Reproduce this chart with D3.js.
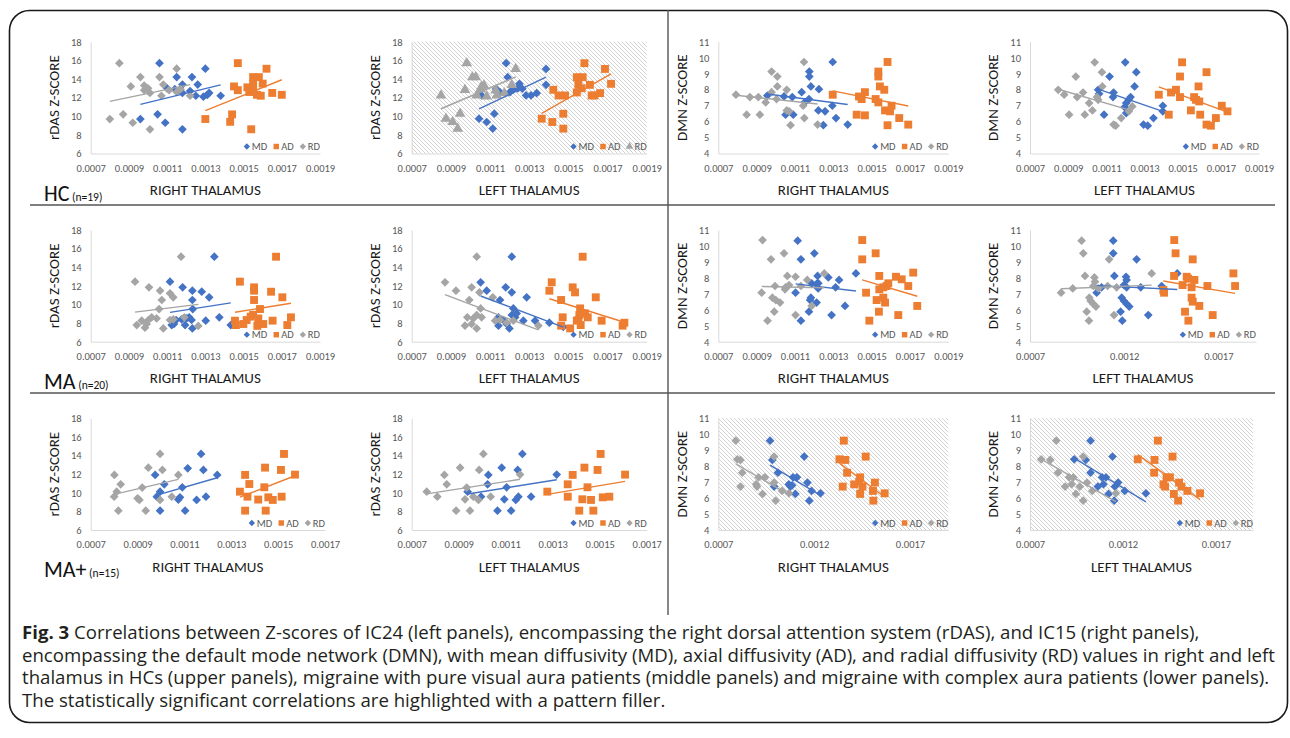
<!DOCTYPE html>
<html>
<head>
<meta charset="utf-8">
<script src="https://cdn.jsdelivr.net/npm/d3@7"></script>
<style>
body { margin: 0; background: #fff; }
svg { display: block; }
text { font-family: Calibri, Carlito, Lato, sans-serif; }
.caption text { font-family: "Open Sans", "Noto Sans", sans-serif; }
</style>
</head>
<body>
<svg id="fig" width="1290" height="738"></svg>
<script>
// tick values
const xTicksWide = [0.0007, 0.0009, 0.0011, 0.0013, 0.0015, 0.0017, 0.0019]
const xTicksShort = [0.0007, 0.0009, 0.0011, 0.0013, 0.0015, 0.0017]
const xTicksCoarse = [0.0007, 0.0012, 0.0017]
const rdasTicks = [6, 8, 10, 12, 14, 16, 18]
const dmnTicks = [4, 5, 6, 7, 8, 9, 10, 11]
const seriesNames = ["MD", "AD", "RD"]
const groupLabels = ["HC", "MA", "MA+"]
const groupSizes = ["(n=19)", "(n=20)", "(n=15)"]

// HC, rDAS, right thalamus
const hcRdasR_MD = [[0.00096,9.7],[0.00105,10.2],[0.00106,15.7],[0.00109,9.3],[0.00110,13.0],[0.00114,12.9],[0.00115,14.2],[0.00118,8.6],[0.00118,13.4],[0.00118,12.5],[0.00123,14.2],[0.00125,12.2],[0.00126,13.4],[0.00129,12.1],[0.00130,15.1],[0.00131,12.3],[0.00132,12.5],[0.00138,12.2],[0.00122,12.7]]
const hcRdasR_AD = [[0.00130,9.7],[0.00143,9.4],[0.00144,10.2],[0.00145,13.2],[0.00147,12.8],[0.00147,15.7],[0.00152,13.1],[0.00153,12.6],[0.00154,8.6],[0.00155,14.2],[0.00155,13.5],[0.00155,12.9],[0.00157,12.3],[0.00158,14.2],[0.00159,12.2],[0.00160,13.5],[0.00162,15.1],[0.00165,12.5],[0.00170,12.3]]
const hcRdasR_RD = [[0.00080,9.7],[0.00085,15.7],[0.00087,10.2],[0.00091,13.2],[0.00092,9.3],[0.00096,14.2],[0.00098,12.8],[0.00098,13.3],[0.00100,13.0],[0.00101,8.6],[0.00101,12.5],[0.00106,14.2],[0.00107,12.2],[0.00108,13.4],[0.00111,12.8],[0.00115,12.6],[0.00115,15.1],[0.00117,12.9],[0.00122,12.2]]
// HC, rDAS, left thalamus
const hcRdasL_MD = [[0.001044,9.74],[0.001057,12.23],[0.001083,9.38],[0.001114,8.67],[0.001122,10.27],[0.001131,12.91],[0.001151,12.55],[0.001182,15.69],[0.00119,14.19],[0.001202,12.59],[0.001216,12.84],[0.001241,13.0],[0.00125,13.48],[0.001265,12.95],[0.001284,12.23],[0.001309,12.23],[0.001338,12.48],[0.001386,15.08],[0.001386,13.37]]
const hcRdasL_AD = [[0.001364,9.74],[0.001418,9.38],[0.001423,12.84],[0.00145,12.23],[0.001474,10.27],[0.001474,8.67],[0.001483,12.23],[0.001543,14.19],[0.001543,12.55],[0.001551,13.37],[0.001568,13.0],[0.001573,14.19],[0.001582,15.69],[0.00161,13.37],[0.001619,12.23],[0.001633,12.23],[0.001662,12.48],[0.001687,15.08],[0.001718,13.48]]
const hcRdasL_RD = [[0.00085,12.23],[0.000875,9.74],[0.000909,9.38],[0.000935,8.67],[0.000947,10.27],[0.000972,12.84],[0.000981,15.69],[0.00101,14.19],[0.001027,14.19],[0.001032,12.23],[0.001052,12.9],[0.001057,13.2],[0.001069,13.3],[0.001083,12.12],[0.001129,12.77],[0.001134,12.23],[0.001173,12.48],[0.001211,13.37],[0.001231,15.08]]
// HC, DMN, right thalamus
const hcDmnR_MD = [[0.000956,7.63],[0.001043,7.57],[0.001051,6.43],[0.001086,7.53],[0.001091,6.43],[0.001135,7.84],[0.001152,7.22],[0.001173,7.41],[0.001175,9.13],[0.001175,8.82],[0.001183,8.2],[0.001222,6.7],[0.001225,8.03],[0.001248,5.77],[0.001257,6.64],[0.001295,6.99],[0.001297,9.73],[0.001314,6.22],[0.001375,5.81]]
const hcDmnR_AD = [[0.001297,7.68],[0.001422,6.43],[0.001434,7.57],[0.001448,7.41],[0.001465,7.84],[0.001465,6.39],[0.001521,7.41],[0.001535,9.13],[0.001535,8.82],[0.001535,7.2],[0.001543,8.2],[0.001566,7.99],[0.00157,6.7],[0.001583,9.73],[0.001583,5.77],[0.001596,6.64],[0.001604,6.99],[0.001644,6.22],[0.001691,5.81]]
const hcDmnR_RD = [[0.000792,7.68],[0.000848,6.43],[0.000865,7.53],[0.000909,7.53],[0.000917,6.43],[0.000947,7.2],[0.000978,9.13],[0.000978,7.84],[0.001004,7.41],[0.001008,8.82],[0.001008,8.2],[0.001057,7.99],[0.001057,6.7],[0.00107,6.64],[0.001077,5.77],[0.001143,6.99],[0.001147,9.73],[0.001149,6.22],[0.001218,5.81]]
// HC, DMN, left thalamus
const hcDmnL_MD = [[0.001057,7.99],[0.001062,7.74],[0.001088,6.43],[0.001117,8.82],[0.001135,7.53],[0.001138,7.82],[0.001196,6.91],[0.001199,9.71],[0.001204,7.16],[0.001204,6.53],[0.001217,7.36],[0.001227,7.53],[0.001248,8.2],[0.001257,9.09],[0.001295,5.81],[0.001317,5.74],[0.001347,6.22],[0.001396,6.99],[0.001396,6.64]]
const hcDmnL_AD = [[0.001375,7.68],[0.001427,6.43],[0.001439,7.82],[0.001465,7.99],[0.001486,8.82],[0.001486,7.53],[0.001497,9.71],[0.001543,6.7],[0.00156,7.53],[0.00157,7.36],[0.001583,8.2],[0.001587,7.26],[0.001592,6.43],[0.001625,9.09],[0.001625,5.81],[0.001648,5.74],[0.001674,6.22],[0.001705,6.99],[0.001735,6.64]]
const hcDmnL_RD = [[0.000848,7.99],[0.000879,7.68],[0.000905,6.43],[0.00094,8.82],[0.000947,7.53],[0.000978,7.82],[0.000987,6.43],[0.00101,7.16],[0.001027,6.7],[0.001039,9.71],[0.001051,7.53],[0.001057,7.36],[0.001077,9.09],[0.001079,8.2],[0.001138,5.81],[0.001149,5.74],[0.001178,6.22],[0.001218,6.64],[0.001236,6.95]]

// MA, rDAS, right thalamus
const maRdasR_MD = [[0.001115,12.45],[0.001124,7.79],[0.001136,7.9],[0.001147,8.33],[0.001176,8.4],[0.001181,11.84],[0.001194,7.79],[0.001202,8.5],[0.001215,8.62],[0.001228,8.33],[0.001232,11.48],[0.001232,10.48],[0.001234,9.51],[0.001232,7.43],[0.001281,11.37],[0.001302,8.26],[0.00132,10.77],[0.001347,15.13],[0.001373,8.62],[0.001433,7.79]]
const maRdasR_AD = [[0.001455,8.26],[0.00146,7.79],[0.001481,12.45],[0.001499,7.9],[0.001516,8.33],[0.001537,8.69],[0.00155,8.9],[0.001555,11.84],[0.001555,11.48],[0.001555,10.48],[0.001572,7.7],[0.001577,8.5],[0.001586,9.51],[0.001603,7.9],[0.001644,11.37],[0.001652,8.26],[0.00167,15.13],[0.001703,10.77],[0.001729,7.79],[0.001748,8.62]]
const maRdasR_RD = [[0.000932,12.45],[0.000941,7.79],[0.000967,8.26],[0.000984,7.5],[0.000993,7.9],[0.001002,8.33],[0.001005,11.84],[0.001019,8.62],[0.001045,8.5],[0.001058,9.51],[0.001063,11.48],[0.001072,10.48],[0.00108,7.43],[0.001115,11.2],[0.001115,8.33],[0.001132,10.77],[0.001132,8.4],[0.001173,15.13],[0.00119,8.62],[0.001263,7.7]]
// MA, rDAS, left thalamus
const maRdasL_MD = [[0.001052,12.38],[0.001083,11.48],[0.001143,8.62],[0.001143,7.72],[0.001151,10.48],[0.001168,8.33],[0.00118,11.84],[0.001185,7.9],[0.001199,7.43],[0.001211,15.13],[0.001211,11.3],[0.001211,8.87],[0.001219,9.58],[0.001228,8.62],[0.001236,9.04],[0.00127,8.26],[0.001287,10.77],[0.00133,8.26],[0.001403,8.04],[0.001474,7.6]]
const maRdasL_AD = [[0.001403,11.48],[0.001415,12.38],[0.001463,10.48],[0.001463,7.72],[0.001471,8.62],[0.001509,7.43],[0.001522,11.84],[0.001534,11.3],[0.001543,8.26],[0.001551,8.33],[0.001556,8.87],[0.00156,9.58],[0.001563,7.79],[0.001573,15.13],[0.001585,9.04],[0.001599,8.62],[0.00164,10.77],[0.00167,8.26],[0.001777,7.72],[0.001786,8.04]]
const maRdasL_RD = [[0.00087,12.38],[0.000926,11.48],[0.000972,7.72],[0.000984,8.62],[0.000994,10.48],[0.001006,11.84],[0.001006,7.9],[0.001015,8.5],[0.001032,15.13],[0.001032,8.87],[0.001032,7.43],[0.001046,11.3],[0.001052,9.58],[0.001057,8.62],[0.001114,10.77],[0.001126,8.26],[0.001151,8.33],[0.001185,8.04],[0.001219,8.26],[0.001347,7.72]]
// MA, DMN, right thalamus
const maDmnR_MD = [[0.001103,7.07],[0.001114,10.33],[0.001131,9.16],[0.001131,5.32],[0.001173,5.88],[0.001179,6.61],[0.001183,6.76],[0.001187,7.66],[0.001201,9.54],[0.001213,7.62],[0.001213,6.45],[0.001218,8.12],[0.001221,7.34],[0.001222,7.66],[0.001274,8.03],[0.001291,5.67],[0.001312,7.41],[0.00133,7.87],[0.001361,6.24],[0.001418,8.28]]
const maDmnR_AD = [[0.001451,10.37],[0.001451,9.16],[0.001471,7.07],[0.001488,5.32],[0.001521,9.54],[0.001526,6.61],[0.001538,5.88],[0.00154,8.12],[0.00154,7.28],[0.001561,7.41],[0.001561,6.76],[0.00157,6.45],[0.001578,7.49],[0.001587,7.66],[0.001627,8.07],[0.001639,5.67],[0.001657,7.91],[0.001691,7.49],[0.001717,8.33],[0.001738,6.24]]
const maDmnR_RD = [[0.000926,7.07],[0.000931,10.37],[0.000957,5.32],[0.000975,9.16],[0.000982,6.76],[0.000992,5.88],[0.000996,7.49],[0.001,6.61],[0.001022,6.45],[0.001043,9.54],[0.001048,7.28],[0.001051,7.41],[0.00106,8.12],[0.001069,7.55],[0.001103,8.07],[0.001103,5.67],[0.001131,7.49],[0.001164,7.87],[0.001187,6.24],[0.001253,8.28]]
// MA, DMN, left thalamus
const maDmnL_MD = [[0.001054,7.07],[0.00108,7.41],[0.001142,10.33],[0.001142,9.54],[0.001148,8.12],[0.001181,5.88],[0.001187,6.76],[0.00119,5.32],[0.001199,6.55],[0.001199,7.55],[0.00121,8.07],[0.001213,7.87],[0.001213,7.41],[0.001213,6.37],[0.001227,6.2],[0.001266,9.16],[0.001288,7.41],[0.001328,5.67],[0.001399,7.49],[0.001482,8.28]]
const maDmnL_AD = [[0.001408,7.24],[0.001412,7.07],[0.001465,8.12],[0.001466,10.37],[0.001473,9.54],[0.00151,7.55],[0.001523,5.88],[0.001532,8.07],[0.00154,7.95],[0.001541,5.32],[0.001558,7.41],[0.001558,6.76],[0.001564,9.16],[0.001564,6.51],[0.001573,7.87],[0.001599,6.24],[0.001642,7.49],[0.00167,5.67],[0.00178,8.28],[0.001789,7.49]]
const maDmnL_RD = [[0.000865,7.07],[0.000927,7.34],[0.000974,10.33],[0.000983,9.54],[0.000992,8.12],[0.001001,5.88],[0.001013,5.32],[0.001015,6.76],[0.001022,6.55],[0.001036,7.49],[0.001036,6.37],[0.001042,8.03],[0.001045,7.76],[0.00105,6.2],[0.001063,7.34],[0.001112,7.49],[0.00112,9.16],[0.001146,5.67],[0.00116,7.41],[0.001346,8.28]]

// MA+, rDAS, right thalamus
const mapRdasR_MD = [[0.000975,11.92],[0.000982,9.58],[0.000996,10.12],[0.000996,8.08],[0.001014,10.91],[0.001074,9.27],[0.001081,9.51],[0.001091,10.59],[0.001103,8.08],[0.001114,12.63],[0.001152,9.23],[0.001171,14.17],[0.001181,12.45],[0.001192,9.58],[0.00124,11.92]]
const mapRdasR_AD = [[0.001337,10.12],[0.001359,11.92],[0.001359,8.08],[0.001369,9.58],[0.001377,10.94],[0.001415,9.27],[0.001441,10.59],[0.001444,12.7],[0.001447,8.08],[0.001458,9.51],[0.001477,9.23],[0.001512,12.45],[0.001515,9.58],[0.001525,14.17],[0.001572,11.95]]
const mapRdasR_RD = [[0.0008,9.58],[0.000801,11.92],[0.000811,10.12],[0.000818,8.08],[0.000828,10.91],[0.0009,9.4],[0.000908,9.23],[0.00092,10.56],[0.000935,8.08],[0.000946,12.7],[0.000996,14.17],[0.000996,9.23],[0.001006,12.45],[0.001046,9.58],[0.001074,11.92]]
// MA+, rDAS, left thalamus
const mapRdasL_MD = [[0.000938,10.12],[0.000995,9.58],[0.001023,10.91],[0.001026,11.92],[0.001065,8.08],[0.001083,12.7],[0.001094,9.3],[0.001104,10.59],[0.001123,8.08],[0.001143,9.23],[0.001151,12.45],[0.001154,9.58],[0.001171,14.17],[0.001208,9.58],[0.001317,11.95]]
const mapRdasL_AD = [[0.001277,10.12],[0.001364,10.91],[0.001364,9.58],[0.001385,11.92],[0.001413,8.08],[0.001426,9.3],[0.001435,12.7],[0.001448,10.59],[0.001463,9.23],[0.001473,8.08],[0.001491,12.45],[0.001504,14.17],[0.001513,9.51],[0.001541,9.58],[0.001608,11.95]]
const mapRdasL_RD = [[0.000764,10.12],[0.000809,9.58],[0.000839,11.92],[0.000849,10.91],[0.000889,8.08],[0.000906,12.7],[0.000927,9.3],[0.000934,10.56],[0.000948,8.08],[0.000962,9.58],[0.000984,9.23],[0.000987,12.45],[0.001005,14.17],[0.001036,9.58],[0.001161,11.95]]
// MA+, DMN, right thalamus
const mapDmnR_MD = [[0.00097,9.6],[0.000982,8.39],[0.000991,6.72],[0.001011,7.59],[0.001068,6.86],[0.001076,6.72],[0.001085,6.8],[0.00109,7.3],[0.001102,6.26],[0.00111,7.3],[0.001148,8.6],[0.001165,6.97],[0.001175,5.84],[0.001187,6.45],[0.001233,6.3]]
const mapDmnR_AD = [[0.001332,8.43],[0.001349,6.72],[0.001355,9.6],[0.001363,8.39],[0.001372,7.59],[0.001409,6.86],[0.001435,7.03],[0.00144,7.3],[0.00144,6.26],[0.001452,6.72],[0.001469,8.6],[0.001507,6.45],[0.001509,5.84],[0.001517,6.97],[0.001568,6.3]]
const mapDmnR_RD = [[0.000791,9.6],[0.000799,8.43],[0.000816,8.39],[0.000816,6.72],[0.000825,7.59],[0.000897,6.86],[0.000902,6.72],[0.00091,7.3],[0.000931,6.26],[0.000943,7.3],[0.000991,8.6],[0.000991,6.97],[0.000999,5.84],[0.001033,6.45],[0.001068,6.3]]
// MA+, DMN, left thalamus
const mapDmnL_MD = [[0.000938,8.43],[0.001,8.39],[0.001026,9.6],[0.001026,7.59],[0.001065,6.72],[0.001088,7.3],[0.001095,6.86],[0.001109,7.3],[0.001123,6.26],[0.001144,8.6],[0.001153,5.84],[0.001157,6.72],[0.001174,6.97],[0.00121,6.45],[0.001324,6.3]]
const mapDmnL_AD = [[0.00128,8.43],[0.001368,7.59],[0.00137,8.39],[0.001388,9.6],[0.001418,6.86],[0.001427,6.72],[0.001435,7.3],[0.001453,7.3],[0.001467,8.6],[0.001474,6.26],[0.001497,5.84],[0.001502,6.97],[0.001515,6.72],[0.001547,6.45],[0.001615,6.3]]
const mapDmnL_RD = [[0.00076,8.43],[0.000809,8.39],[0.000841,9.6],[0.00085,7.59],[0.000889,6.72],[0.00091,7.3],[0.000924,6.86],[0.000933,7.3],[0.000947,6.26],[0.000968,6.72],[0.000986,8.6],[0.000986,5.84],[0.001007,6.97],[0.001035,6.45],[0.001162,6.3]]

const captionLines = [
    ["Fig. 3", " Correlations between Z-scores of IC24 (left panels), encompassing the right dorsal attention system (rDAS), and IC15 (right panels),"],
    ["", "encompassing the default mode network (DMN), with mean diffusivity (MD), axial diffusivity (AD), and radial diffusivity (RD) values in right and left"],
    ["", "thalamus in HCs (upper panels), migraine with pure visual aura patients (middle panels) and migraine with complex aura patients (lower panels)."],
    ["", "The statistically significant correlations are highlighted with a pattern filler."]
]

const colors = { MD: "#4472C4", AD: "#ED7D31", RD: "#A5A5A5" }

// layout of the grid
const rows = [
    { top: 41.7, bottom: 153.5, labelY: 201 },
    { top: 230, bottom: 341.7, labelY: 389 },
    { top: 418.3, bottom: 530, labelY: 577 }
]
const cols = [
    { left: 90.7, right: 320 },
    { left: 411.7, right: 646.7 },
    { left: 718.3, right: 948.3 },
    { left: 1030, right: 1259 }
]

const panels = [
    { row: 0, col: 0, ticks: xTicksWide, y: "rDAS", side: "RIGHT", data: [hcRdasR_MD, hcRdasR_AD, hcRdasR_RD] },
    { row: 0, col: 1, ticks: xTicksWide, y: "rDAS", side: "LEFT", data: [hcRdasL_MD, hcRdasL_AD, hcRdasL_RD], hatch: true, triangle: true },
    { row: 0, col: 2, ticks: xTicksWide, y: "DMN", side: "RIGHT", data: [hcDmnR_MD, hcDmnR_AD, hcDmnR_RD] },
    { row: 0, col: 3, ticks: xTicksWide, y: "DMN", side: "LEFT", data: [hcDmnL_MD, hcDmnL_AD, hcDmnL_RD] },
    { row: 1, col: 0, ticks: xTicksWide, y: "rDAS", side: "RIGHT", data: [maRdasR_MD, maRdasR_AD, maRdasR_RD] },
    { row: 1, col: 1, ticks: xTicksWide, y: "rDAS", side: "LEFT", data: [maRdasL_MD, maRdasL_AD, maRdasL_RD] },
    { row: 1, col: 2, ticks: xTicksWide, y: "DMN", side: "RIGHT", data: [maDmnR_MD, maDmnR_AD, maDmnR_RD] },
    { row: 1, col: 3, ticks: xTicksCoarse, y: "DMN", side: "LEFT", data: [maDmnL_MD, maDmnL_AD, maDmnL_RD], right: 1256 },
    { row: 2, col: 0, ticks: xTicksShort, y: "rDAS", side: "RIGHT", data: [mapRdasR_MD, mapRdasR_AD, mapRdasR_RD], right: 325 },
    { row: 2, col: 1, ticks: xTicksShort, y: "rDAS", side: "LEFT", data: [mapRdasL_MD, mapRdasL_AD, mapRdasL_RD] },
    { row: 2, col: 2, ticks: xTicksCoarse, y: "DMN", side: "RIGHT", data: [mapDmnR_MD, mapDmnR_AD, mapDmnR_RD], hatch: true },
    { row: 2, col: 3, ticks: xTicksCoarse, y: "DMN", side: "LEFT", data: [mapDmnL_MD, mapDmnL_AD, mapDmnL_RD], hatch: true, right: 1253 }
]

const svg = d3.select("#fig")

const defs = svg.append("defs")
const hatch = defs.append("pattern")
    .attr("id", "hatch")
    .attr("patternUnits", "userSpaceOnUse")
    .attr("width", 4)
    .attr("height", 4)
hatch.append("rect").attr("width", 4).attr("height", 4).attr("fill", "#fff")
hatch.append("path")
    .attr("d", "M0,0 L4,4 M-1,3 L1,5 M3,-1 L5,1")
    .attr("stroke", "#cdcdcd")
    .attr("stroke-width", 0.9)

// outer frame and dividers
svg.append("rect")
    .attr("x", 9.5).attr("y", 10.5)
    .attr("width", 1278).attr("height", 712)
    .attr("rx", 20)
    .attr("fill", "none")
    .attr("stroke", "#1a1a1a")
    .attr("stroke-width", 1.6)

const divider = svg.append("g").attr("stroke", "#555").attr("stroke-width", 1.4)
divider.append("line").attr("x1", 668).attr("x2", 668).attr("y1", 10).attr("y2", 615)
;[205, 393].forEach(yy => {
    divider.append("line").attr("x1", 30).attr("x2", 1275).attr("y1", yy).attr("y2", yy)
})

function diamond(size) {
    return d3.symbol(d3.symbolSquare, size)()
}

function markerPath(key, p, legend) {
    if (key === "AD") return d3.symbol(d3.symbolSquare, legend ? 30 : 62)()
    if (key === "RD" && p.triangle) return d3.symbol(d3.symbolTriangle, legend ? 26 : 50)()
    return diamond(legend ? 20 : 38)
}

function markerRotate(key, p) {
    if (key === "AD") return 0
    if (key === "RD" && p.triangle) return 0
    return 45
}

function fit(pts) {
    const mx = d3.mean(pts, d => d[0])
    const my = d3.mean(pts, d => d[1])
    const b = d3.sum(pts, d => (d[0] - mx) * (d[1] - my)) / d3.sum(pts, d => (d[0] - mx) ** 2)
    return [b, my - b * mx]
}

function drawPanel(p) {
    const r = rows[p.row]
    const c = cols[p.col]
    const right = p.right || c.right
    const xMax = p.ticks === xTicksShort ? 0.0017 : 0.0019
    const x = d3.scaleLinear().domain([0.0007, xMax]).range([c.left, right])
    const yTicks = p.y === "rDAS" ? rdasTicks : dmnTicks
    const y = d3.scaleLinear().domain([yTicks[0], yTicks[yTicks.length - 1]]).range([r.bottom, r.top])

    const g = svg.append("g")

    if (p.hatch) {
        g.append("rect")
            .attr("x", c.left).attr("y", r.top)
            .attr("width", right - c.left).attr("height", r.bottom - r.top)
            .attr("fill", "url(#hatch)")
    }

    const xAxis = g.append("g")
        .attr("transform", `translate(0,${r.bottom})`)
        .call(d3.axisBottom(x).tickValues(p.ticks).tickFormat(d3.format(".4f")).tickSize(0).tickPadding(11))
    const yAxis = g.append("g")
        .attr("transform", `translate(${c.left},0)`)
        .call(d3.axisLeft(y).tickValues(yTicks).tickFormat(d3.format("d")).tickSize(0).tickPadding(9))
    ;[xAxis, yAxis].forEach(a => {
        a.select(".domain").attr("stroke", "#d9d9d9").attr("stroke-width", 1)
        a.selectAll("text").attr("fill", "#595959").style("font-size", "10.5px")
            .style("font-family", "Calibri, Carlito, Lato, sans-serif")
    })

    // markers
    seriesNames.forEach((key, i) => {
        g.append("g")
            .selectAll("path")
            .data(p.data[i])
            .enter().append("path")
            .attr("d", markerPath(key, p, false))
            .attr("transform", d => `translate(${x(d[0])},${y(d[1])}) rotate(${markerRotate(key, p)})`)
            .attr("fill", colors[key])
    })

    // linear trendlines
    seriesNames.forEach((key, i) => {
        const pts = p.data[i]
        const [b, a] = fit(pts)
        const ext = d3.extent(pts, d => d[0])
        g.append("line")
            .attr("x1", x(ext[0])).attr("y1", y(a + b * ext[0]))
            .attr("x2", x(ext[1])).attr("y2", y(a + b * ext[1]))
            .attr("stroke", colors[key])
            .attr("stroke-width", 1.4)
    })

    // axis titles
    g.append("text")
        .attr("transform", `translate(${c.left - 37},${(r.top + r.bottom) / 2}) rotate(-90)`)
        .attr("text-anchor", "middle")
        .attr("dy", "0.35em")
        .style("font-size", "15px")
        .attr("fill", "#1a1a1a")
        .text(`${p.y} Z-SCORE`)

    g.append("text")
        .attr("x", (c.left + right) / 2)
        .attr("y", r.bottom + 36.5)
        .attr("dy", "0.35em")
        .attr("text-anchor", "middle")
        .style("font-size", "15px")
        .attr("fill", "#1a1a1a")
        .text(`${p.side} THALAMUS`)

    // legend, right aligned on the plot area
    const legend = g.append("g")
    let lx = 0
    seriesNames.forEach(key => {
        legend.append("path")
            .attr("d", markerPath(key, p, true))
            .attr("transform", `translate(${lx + 3},0) rotate(${markerRotate(key, p)})`)
            .attr("fill", colors[key])
        const t = legend.append("text")
            .attr("x", lx + 8)
            .attr("dy", "0.35em")
            .attr("fill", "#595959")
            .style("font-size", "10.5px")
            .text(key)
        lx += 8 + t.node().getComputedTextLength() + 6
    })
    legend.attr("transform", `translate(${right - (lx - 6)},${r.bottom - 7})`)
}

panels.forEach(drawPanel)

// group labels
groupLabels.forEach((label, i) => {
    const t = svg.append("text")
        .attr("x", 44)
        .attr("y", rows[i].labelY)
        .attr("fill", "#111")
        .style("font-size", "22px")
    t.append("tspan").text(label)
    t.append("tspan").style("font-size", "11.5px").text(" " + groupSizes[i])
})

// caption
const caption = svg.append("g").attr("class", "caption")
const lineNodes = captionLines.map((parts, i) => {
    const t = caption.append("text")
        .attr("x", 22)
        .attr("y", 639 + i * 22.7)
        .attr("fill", "#231f20")
        .style("font-size", "16px")
    if (parts[0]) t.append("tspan").style("font-weight", "bold").text(parts[0])
    t.append("tspan").text(parts[1])
    return t
})
// fit the font so the longest line spans the reference width
const w = lineNodes[1].node().getComputedTextLength()
const fs = 16 * 1253 / w
lineNodes.forEach(t => t.style("font-size", fs + "px"))
</script>
</body>
</html>
